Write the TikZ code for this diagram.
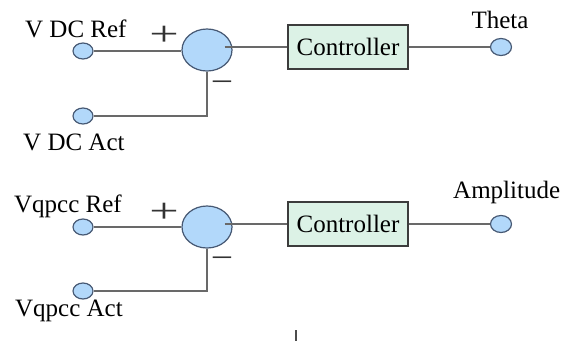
\documentclass[tikz,border=0pt]{standalone}
\usepackage{fontspec}
\setmainfont{Liberation Serif}
\usetikzlibrary{shapes.geometric,calc}
\definecolor{portfill}{RGB}{178,216,250}
\definecolor{portdraw}{RGB}{70,88,115}
\definecolor{ctrlfill}{RGB}{220,242,230}
\definecolor{ctrldraw}{RGB}{60,60,60}
\definecolor{wire}{RGB}{105,105,105}
\tikzset{
  port/.style={ellipse,draw=portdraw,fill=portfill,line width=1.2pt,minimum width=20pt,minimum height=16pt,inner sep=0pt},
  summer/.style={ellipse,draw=portdraw,fill=portfill,line width=1.2pt,minimum width=50pt,minimum height=42pt,inner sep=0pt},
  ctrlbox/.style={rectangle,draw=ctrldraw,fill=ctrlfill,line width=1.2pt,minimum width=120pt,minimum height=44pt,inner sep=0pt,font=\fontsize{25}{28}\selectfont},
  lbl/.style={inner sep=0pt,font=\fontsize{25}{28}\selectfont},
  sgn/.style={inner sep=0pt,font=\fontsize{36}{40}\selectfont,text=black!80},
  wire/.style={draw=wire,line width=1.3pt}
}
\begin{document}
\begin{tikzpicture}[x=1pt,y=-1pt]
\useasboundingbox[fill=white] (0,0) rectangle (568,341);
% ---- top loop ----
\node[port] (pref1) at (83,51) {};
\node[port] (pact1) at (83,116) {};
\node[summer] (sum1) at (207,50) {};
\node[ctrlbox] (ctrl1) at (348,47) {Controller};
\node[port,minimum width=21pt,minimum height=17pt] (out1) at (501,47) {};
\node[lbl,anchor=base west] (lref1) at (25,37) {V DC Ref};
\node[lbl,anchor=base west] (lact1) at (23,150) {V DC Act};
\node[lbl,anchor=base] (lout1) at (500,28) {Theta};
\node[sgn] (plus1) at (164,36) {\scalebox{1.45}[0.95]{+}};
\node[sgn] (minus1) at (222,87) {\scalebox{1.1}[0.9]{−}};
\draw[wire] (pref1.east) -- (pref1.east -| sum1.west);
\draw[wire] (sum1.south) -- (sum1.south |- pact1.east) -- (pact1.east);
\draw[wire] ($(sum1.east |- ctrl1.west)+(-8,0)$) -- (ctrl1.west);
\draw[wire] (ctrl1.east) -- (out1.west);
% ---- bottom loop ----
\node[port] (pref2) at (83,227) {};
\node[port] (pact2) at (83,291) {};
\node[summer] (sum2) at (207,227) {};
\node[ctrlbox] (ctrl2) at (348,224) {Controller};
\node[port,minimum width=21pt,minimum height=17pt] (out2) at (501,224) {};
\node[lbl,anchor=base west] (lref2) at (14,212) {Vqpcc Ref};
\node[lbl,anchor=base west] (lact2) at (15,316) {Vqpcc Act};
\node[lbl,anchor=base west] (lout2) at (453,198) {Amplitude};
\node[sgn] (plus2) at (164,213) {\scalebox{1.45}[0.95]{+}};
\node[sgn] (minus2) at (222,263) {\scalebox{1.1}[0.9]{−}};
\draw[wire] (pref2.east) -- (pref2.east -| sum2.west);
\draw[wire] (sum2.south) -- (sum2.south |- pact2.east) -- (pact2.east);
\draw[wire] ($(sum2.east |- ctrl2.west)+(-8,0)$) -- (ctrl2.west);
\draw[wire] (ctrl2.east) -- (out2.west);
% small tick at bottom
\coordinate (tickA) at (296,330);
\coordinate (tickB) at (296,341);
\draw[wire,line width=1.5pt,draw=black!70] (tickA) -- (tickB);
\end{tikzpicture}
\end{document}
